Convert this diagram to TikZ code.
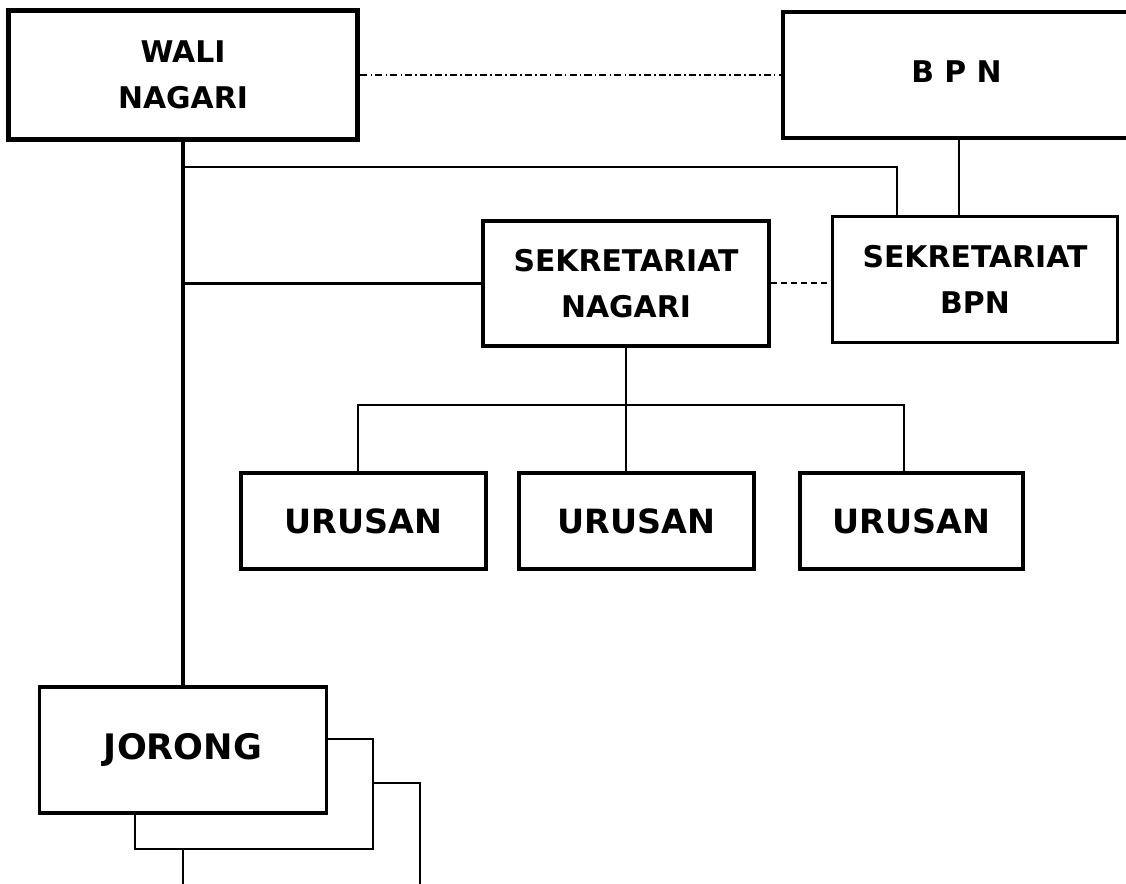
\documentclass[tikz,border=0pt]{standalone}
\usepackage{fontspec}
\setmainfont{DejaVu Sans}
\usepackage{xcolor}
\usepackage{tikz}
\usetikzlibrary{calc,positioning}
\definecolor{PageBg}{HTML}{FFFFFF}
\definecolor{InkBlack}{HTML}{000000}

\tikzset{
    orgbox/.style={draw=InkBlack, fill=PageBg, inner sep=0pt, align=center,
        font=\fontsize{17}{26}\selectfont\bfseries},
    bigbox/.style={orgbox, font=\fontsize{19}{26}\selectfont\bfseries},
    stackbox/.style={draw=InkBlack, fill=PageBg, line width=0.03cm, inner sep=0pt},
    thinline/.style={InkBlack, line width=0.04cm},
    thickline/.style={InkBlack, line width=0.075cm}
}

\begin{document}
\begin{tikzpicture}[x=0.02cm,y=-0.02cm]
        \useasboundingbox (0,0) rectangle (1126,884);
        \fill[PageBg] (0,0) rectangle (1126,884);

        % pimpinan
        \node[orgbox, line width=0.1cm, minimum width=7cm, minimum height=2.6cm] (wali) at (183,75) {WALI\\NAGARI};
        \node[orgbox, line width=0.07cm, minimum width=6.94cm, minimum height=2.52cm] (bpn) at (956.5,75) {\raisebox{0.12cm}{B P N}};

        % sekretariat
        \node[orgbox, line width=0.07cm, minimum width=5.72cm, minimum height=2.5cm] (snag) at (626,283.5) {SEKRETARIAT\\NAGARI};
        \node[orgbox, line width=0.06cm, minimum width=5.72cm, minimum height=2.54cm] (sbpn) at (975,279.5) {SEKRETARIAT\\BPN};

        % urusan
        \node[bigbox, line width=0.065cm, minimum width=4.9cm, minimum height=1.92cm] (urusanA) at (363.5,521) {URUSAN};
        \node[bigbox, line width=0.065cm, minimum width=4.7cm, minimum height=1.92cm] (urusanB) at (636.5,521) {URUSAN};
        \node[bigbox, line width=0.065cm, minimum width=4.46cm, minimum height=1.92cm] (urusanC) at (911.5,521) {URUSAN};

        % jorong (bertumpuk)
        \node[stackbox, minimum width=4.74cm, minimum height=3.14cm] (jorongC) at (301.5,861.5) {};
        \node[stackbox, minimum width=4.76cm, minimum height=2.2cm] (jorongB) at (254,794) {};
        \node[bigbox, font=\fontsize{20}{26}\selectfont\bfseries, line width=0.07cm, minimum width=5.74cm, minimum height=2.52cm] (jorong) at (183,750) {JORONG};

        \coordinate (tap) at (183,167);
        \coordinate (busL) at (358,405);
        \coordinate (busR) at (904,405);

        % garis komando
        \draw[InkBlack, line width=0.08cm] (wali.south) -- (wali.south |- jorong.north);
        \draw[thickline] (snag.west) -- (snag.west -| wali.south);
        \draw[thinline] (tap) -| ($(sbpn.north west)!0.23!(sbpn.north east)$);
        \draw[thinline] (bpn.south -| 959,0) -- (sbpn.north -| 959,0);
        \draw[thinline] (snag.south) -- (snag.south |- urusanB.north);
        \draw[thinline] (busL |- urusanA.north) -- (busL) -- (busR) -- (busR |- urusanC.north);

        % garis koordinasi
        \draw[InkBlack, line width=0.04cm, dash pattern=on 4pt off 1.8pt on 0.9pt off 1.8pt] (wali.east) -- (bpn.west);
        \draw[InkBlack, line width=0.04cm, dash pattern=on 3.4pt off 2.3pt] (snag.east) -- (snag.east -| sbpn.west);
    \end{tikzpicture}
\end{document}
